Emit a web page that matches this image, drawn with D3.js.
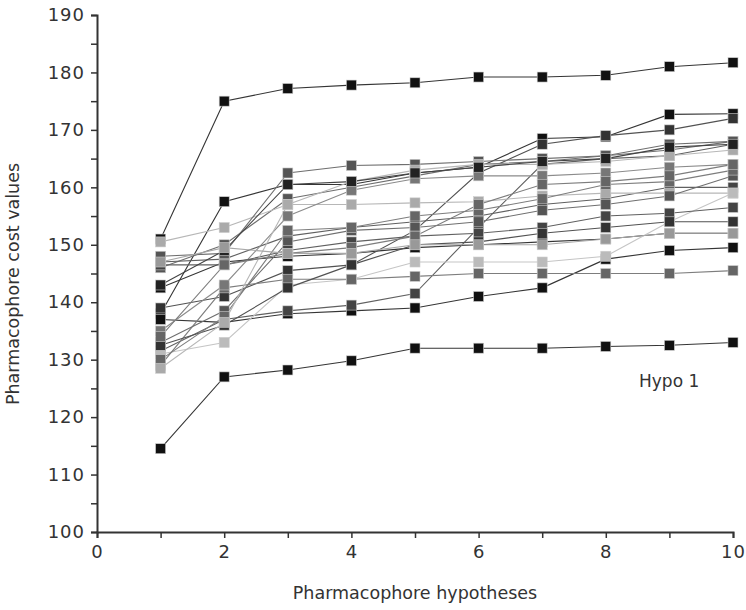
<!DOCTYPE html>
<html>
<head>
<meta charset="utf-8">
<script src="https://cdnjs.cloudflare.com/ajax/libs/d3/7.8.5/d3.min.js"></script>
<style>
  body { margin: 0; background: #fff; }
  svg text { font-family: "DejaVu Sans", sans-serif; fill: #333; }
</style>
</head>
<body>
<div id="chart"></div>
<script>
// hypothesis numbers on the x axis
var hypotheses = [1, 2, 3, 4, 5, 6, 7, 8, 9, 10];

// cost values, one row per run
var costValues = [
  [151, 175, 177.2, 177.8, 178.2, 179.2, 179.2, 179.5, 181, 181.7],
  [114.5, 127, 128.2, 129.8, 132, 132, 132, 132.3, 132.5, 133],
  [138, 157.5, 160.5, 160.5, 162.5, 163.5, 168.5, 168.8, 172.7, 172.8],
  [142.5, 147, 148, 148.5, 149.5, 150, 150.5, 151, 152, 152],
  [137, 136.5, 138, 138.5, 139, 141, 142.5, 147.5, 149, 149.5],
  [139, 141, 145.5, 146.5, 152.5, 162.5, 167.5, 169, 170, 172],
  [131.5, 137, 138.5, 139.5, 141.5, 153, 164, 165, 165.5, 167.5],
  [146, 150, 158, 160, 162, 164, 164.5, 165.5, 166.5, 168],
  [147, 147.5, 151.5, 153, 154, 155, 157, 158, 160, 160],
  [150.5, 153, 157, 157, 157.3, 157.5, 158.5, 159, 159, 159],
  [131, 133, 143, 144, 147, 147, 147, 148, 154, 159],
  [129, 142.5, 144, 144, 144.5, 145, 145, 145, 145, 145.5],
  [148, 148.5, 162.5, 163.8, 164, 164.5, 165, 165.5, 167.5, 168],
  [135, 143, 155, 159.5, 161.5, 162, 162, 162.5, 163.5, 164],
  [133, 138.5, 150.5, 152.5, 153, 154, 156, 157, 158.5, 162],
  [146.5, 146.5, 149, 150.5, 151.5, 152, 153, 155, 155.5, 156.5],
  [132.5, 136, 142.5, 146.5, 150, 150.5, 152, 153, 154, 154],
  [130, 137.5, 152.5, 153, 155, 156, 158, 160.5, 161, 163],
  [128.5, 136.5, 157, 161, 163, 164, 164, 164.5, 165.5, 166.5],
  [134, 146.5, 148.5, 149.5, 151.5, 157, 160.5, 161, 162, 164],
  [143, 149, 160.5, 161, 162.5, 163.5, 164.5, 165, 167, 167.5],
  [147, 149.5, 148.5, 148.5, 150, 150, 150, 151, 152, 152]
];

// grey level of each run
var shades = ['#111', '#111', '#111', '#111', '#111', '#333', '#444', '#555',
  '#444', '#aaa', '#bbb', '#666', '#555', '#777', '#555', '#444',
  '#333', '#666', '#aaa', '#666', '#222', '#999'];

var yTicks = [100, 110, 120, 130, 140, 150, 160, 170, 180, 190];
var xTicks = [0, 2, 4, 6, 8, 10];

var width = 746, height = 610;
var svg = d3.select('#chart').append('svg')
  .attr('width', width)
  .attr('height', height);

var x = d3.scaleLinear().domain([0, 10]).range([97, 733]);
var y = d3.scaleLinear().domain([100, 190]).range([532, 15]);

// lines first, markers on top
var line = d3.line()
  .x(function(d, i) { return x(hypotheses[i]); })
  .y(function(d) { return y(d); });

costValues.forEach(function(row, k) {
  svg.append('path')
    .attr('d', line(row))
    .attr('fill', 'none')
    .attr('stroke', d3.interpolateRgb(shades[k], '#fff')(0.15))
    .attr('stroke-width', 1.1);
});

var ms = 10;
costValues.forEach(function(row, k) {
  svg.selectAll(null)
    .data(row)
    .enter()
    .append('rect')
    .attr('x', function(d, i) { return x(hypotheses[i]) - ms / 2; })
    .attr('y', function(d) { return y(d) - ms / 2; })
    .attr('width', ms)
    .attr('height', ms)
    .attr('fill', shades[k])
    .attr('stroke', '#ccc')
    .attr('stroke-width', 0.6);
});

// y axis
svg.append('g')
  .attr('transform', 'translate(97,0)')
  .call(d3.axisLeft(y).tickValues(yTicks).tickSize(6).tickPadding(6));
svg.append('g')
  .attr('transform', 'translate(97,0)')
  .call(d3.axisLeft(y).tickValues(d3.range(105, 190, 10)).tickSize(6).tickFormat(''))
  .select('.domain').remove();

// x axis
svg.append('g')
  .attr('transform', 'translate(0,532)')
  .call(d3.axisBottom(x).tickValues(xTicks).tickSize(6).tickPadding(7));
svg.append('g')
  .attr('transform', 'translate(0,532)')
  .call(d3.axisBottom(x).tickValues([1, 3, 5, 7, 9]).tickSize(6).tickFormat(''))
  .select('.domain').remove();

svg.selectAll('.domain').attr('stroke', '#333').attr('stroke-width', 2);
svg.selectAll('.tick line').attr('stroke', '#333').attr('stroke-width', 1.5);
svg.selectAll('.tick text')
  .style('font-size', '18px')
  .style('letter-spacing', '1px')
  .attr('fill', '#333');

svg.append('text')
  .attr('x', 415)
  .attr('y', 599)
  .attr('text-anchor', 'middle')
  .style('font-size', '17.5px')
  .text('Pharmacophore hypotheses');

svg.append('text')
  .attr('transform', 'translate(19,284) rotate(-90)')
  .attr('text-anchor', 'middle')
  .style('font-size', '17.5px')
  .text('Pharmacophore cost values');

svg.append('text')
  .attr('x', 639)
  .attr('y', 387)
  .style('font-size', '17px')
  .text('Hypo 1');
</script>
</body>
</html>
